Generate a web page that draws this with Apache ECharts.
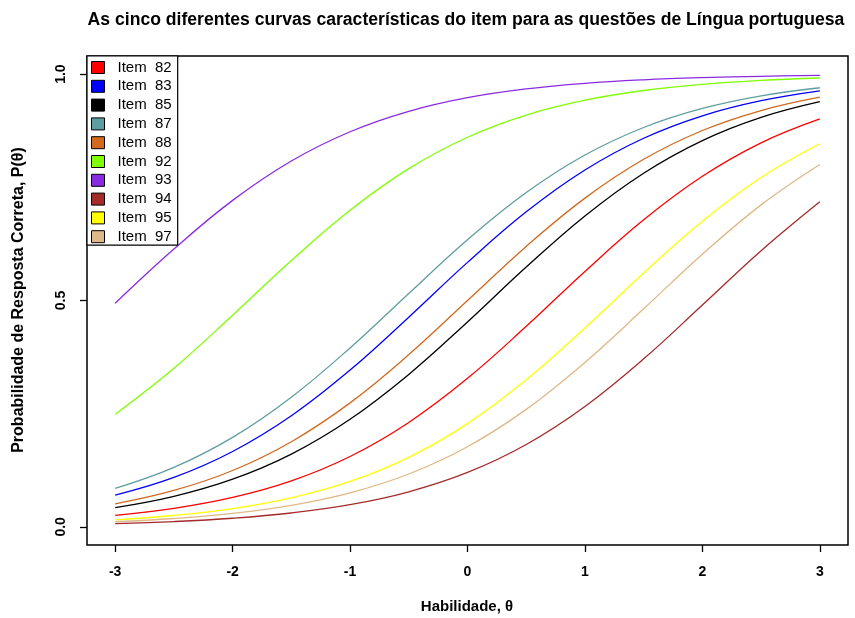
<!DOCTYPE html>
<html>
<head>
<meta charset="utf-8">
<script src="https://cdn.jsdelivr.net/npm/echarts@6/dist/echarts.min.js"></script>
<style>
html,body{margin:0;padding:0;background:#fff;}
#chart{width:855px;height:618px;}
</style>
</head>
<body>
<div id="chart"></div>
<script>
// Ability values (theta) at which curves were read
const thetas = [-3, -2.5, -2, -1.5, -1, -0.5, 0, 0.5, 1, 1.5, 2, 2.5, 3];

// Probability of correct response
const item82 = [0.0255, 0.0409, 0.0650, 0.1016, 0.1555, 0.2307, 0.3281, 0.4429, 0.5642, 0.6782, 0.7743, 0.8482, 0.9010];
const item83 = [0.0701, 0.1093, 0.1666, 0.2455, 0.3464, 0.4632, 0.5842, 0.6959, 0.7883, 0.8584, 0.9080, 0.9414, 0.9632];
const item85 = [0.0425, 0.0674, 0.1053, 0.1608, 0.2378, 0.3368, 0.4526, 0.5738, 0.6868, 0.7812, 0.8532, 0.9044, 0.9391];
const item87 = [0.0851, 0.1315, 0.1978, 0.2865, 0.3953, 0.5156, 0.6341, 0.7384, 0.8213, 0.8821, 0.9241, 0.9520, 0.9699];
const item88 = [0.0509, 0.0804, 0.1245, 0.1881, 0.2739, 0.3805, 0.5000, 0.6195, 0.7261, 0.8119, 0.8755, 0.9196, 0.9491];
const item92 = [0.2488, 0.3504, 0.4675, 0.5884, 0.6995, 0.7913, 0.8606, 0.9095, 0.9424, 0.9638, 0.9775, 0.9860, 0.9914];
const item93 = [0.4938, 0.6136, 0.7211, 0.8081, 0.8727, 0.9178, 0.9479, 0.9673, 0.9797, 0.9874, 0.9922, 0.9952, 0.9971];
const item94 = [0.0073, 0.0118, 0.0191, 0.0307, 0.0490, 0.0775, 0.1202, 0.1820, 0.2660, 0.3711, 0.4900, 0.6100, 0.7181];
const item95 = [0.0156, 0.0252, 0.0404, 0.0641, 0.1003, 0.1536, 0.2281, 0.3249, 0.4393, 0.5606, 0.6751, 0.7718, 0.8463];
const item97 = [0.0114, 0.0185, 0.0297, 0.0475, 0.0751, 0.1168, 0.1771, 0.2595, 0.3633, 0.4816, 0.6021, 0.7112, 0.8004];

const itemNames = ['Item  82', 'Item  83', 'Item  85', 'Item  87', 'Item  88', 'Item  92', 'Item  93', 'Item  94', 'Item  95', 'Item  97'];
const itemValues = [item82, item83, item85, item87, item88, item92, item93, item94, item95, item97];
const itemColors = ['#FF0000', '#0000FF', '#000000', '#5F9EA0', '#D2691E', '#7FFF00', '#8A2BE2', '#A52A2A', '#FFFF00', '#DEB887'];

const xTicks = [-3, -2, -1, 0, 1, 2, 3];
const yTicks = [0, 0.5, 1];

const titleText = 'As cinco diferentes curvas características do item para as questões de Língua portuguesa';
const xTitle = 'Habilidade, θ';
const yTitle = 'Probabilidade de Resposta Correta, P(θ)';

const FONT = 'Liberation Sans, Arial, Helvetica, sans-serif';

const chart = echarts.init(document.getElementById('chart'), null, {renderer: 'canvas'});

const series = itemNames.map((name, k) => ({
  type: 'line',
  name: name,
  data: thetas.map((t, i) => [t, itemValues[k][i]]),
  smooth: 0.4,
  showSymbol: false,
  symbol: 'none',
  color: itemColors[k],
  lineStyle: {width: 1.3, color: itemColors[k]},
  itemStyle: {color: itemColors[k]},
  emphasis: {disabled: true},
  z: 2
}));

chart.setOption({
  animation: false,
  backgroundColor: '#fff',
  grid: {
    left: 87, right: 7, top: 56, bottom: 73,
    show: true, borderColor: '#000', borderWidth: 1.5, backgroundColor: 'transparent'
  },
  xAxis: {
    type: 'value', min: -3.24, max: 3.24,
    splitLine: {show: false},
    axisLine: {show: false, onZero: false},
    axisTick: {show: true, customValues: xTicks, length: 7, lineStyle: {color: '#000', width: 1.3}},
    axisLabel: {
      customValues: xTicks, color: '#000', fontWeight: 'bold', fontSize: 14, fontFamily: FONT, margin: 20,
      formatter: v => String(v)
    }
  },
  yAxis: {
    type: 'value', min: -0.04, max: 1.04,
    splitLine: {show: false},
    axisLine: {show: false, onZero: false},
    axisTick: {show: true, customValues: yTicks, length: 7, lineStyle: {color: '#000', width: 1.3}},
    axisLabel: {
      customValues: yTicks, color: '#000', fontWeight: 'bold', fontSize: 14, fontFamily: FONT, margin: 19, rotate: 90,
      formatter: v => Number(v).toFixed(1)
    }
  },
  legend: {
    orient: 'vertical', left: 87, top: 56,
    data: itemNames,
    icon: 'rect', itemWidth: 13, itemHeight: 12, itemGap: 3.8,
    padding: [4, 6, 1, 4],
    borderColor: '#000', borderWidth: 1.2, backgroundColor: '#fff',
    itemStyle: {borderColor: '#000', borderWidth: 1},
    textStyle: {color: '#000', fontSize: 15, fontFamily: FONT, lineHeight: 13, padding: [0, 0, 0, 8]},
    selectedMode: false,
    z: 10
  },
  graphic: [
    {type: 'text', x: 466, y: 20, style: {text: titleText, fill: '#000', font: 'bold 17.6px ' + FONT, textAlign: 'center', textVerticalAlign: 'middle'}},
    {type: 'text', x: 467, y: 607, style: {text: xTitle, fill: '#000', font: 'bold 15px ' + FONT, textAlign: 'center', textVerticalAlign: 'middle'}},
    {type: 'text', x: 19, y: 300, rotation: Math.PI / 2, style: {text: yTitle, fill: '#000', font: 'bold 16px ' + FONT, textAlign: 'center', textVerticalAlign: 'middle'}}
  ],
  series: series
});
</script>
</body>
</html>
